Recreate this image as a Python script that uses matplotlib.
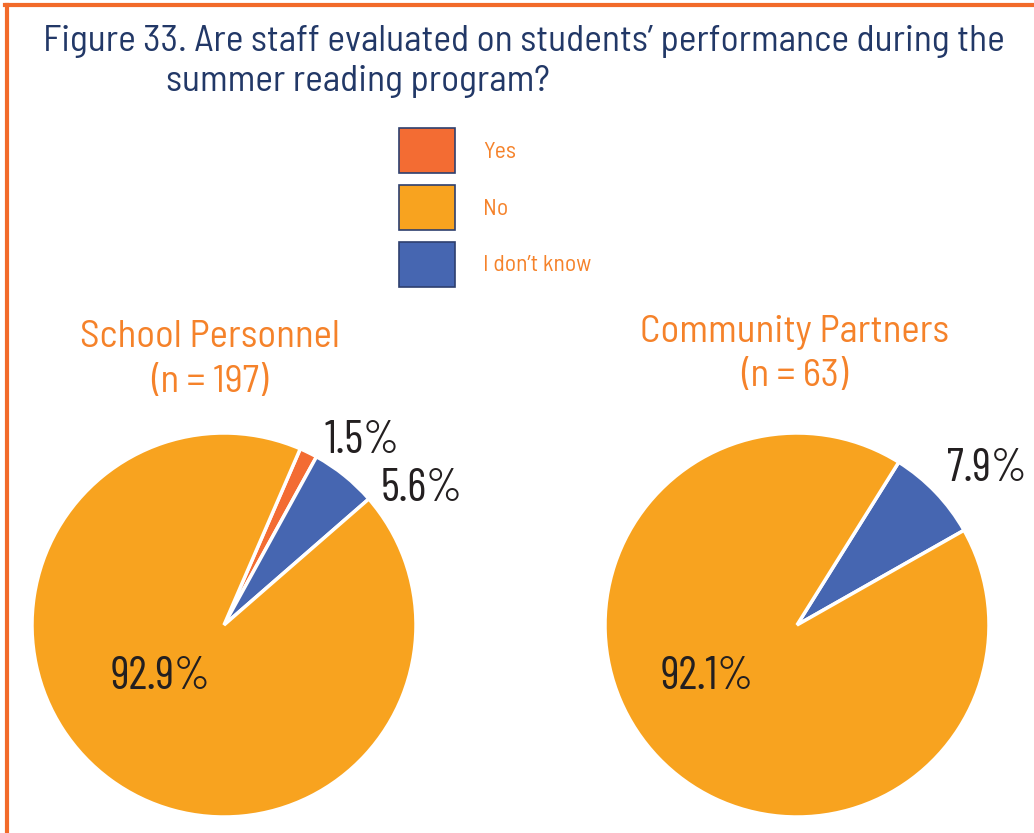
import matplotlib.pyplot as plt
from matplotlib.patches import Patch
from matplotlib.lines import Line2D

# survey answers, percent of respondents
answers = ['Yes', 'No', "I don't know"]
school_pct = [1.5, 92.9, 5.6]
community_pct = [0.0, 92.1, 7.9]
groups = ['School Personnel', 'Community Partners']
group_n = [197, 63]

colors = {'Yes': '#F36C33', 'No': '#F8A31F', "I don't know": '#4666B1'}
navy = '#223867'
orange_txt = '#F5822A'
dark = '#231F20'
narrow = ['Barlow Condensed', 'DejaVu Sans']
semi = ['Barlow Semi Condensed', 'DejaVu Sans']

W, H = 1034, 833
fig = plt.figure(figsize=(W / 100, H / 100), dpi=100)
fig.patch.set_facecolor('white')

# orange frame (top and left edges)
fig.add_artist(Line2D([5 / W, 1], [1 - 5 / H, 1 - 5 / H], color='#F26B2A', lw=3, transform=fig.transFigure))
fig.add_artist(Line2D([7 / W, 7 / W], [0, 1 - 5 / H], color='#F26B2A', lw=3, transform=fig.transFigure))

fig.text(43 / W, 1 - 42 / H, "Figure 33. Are staff evaluated on students\u2019 performance during the",
         fontsize=27, color=navy, family=semi, va='center', ha='left')
fig.text(166 / W, 1 - 82 / H, "summer reading program?",
         fontsize=27, color=navy, family=semi, va='center', ha='left')

handles = [Patch(facecolor=colors[a], edgecolor='#2E3F6E', lw=1.2) for a in answers]
leg = fig.legend(handles, ['Yes', 'No', 'I don\u2019t know'], loc='upper left',
                 bbox_to_anchor=(399 / W, 1 - 128 / H), frameon=False, borderpad=0,
                 borderaxespad=0, handlelength=2.37, handleheight=2.56, labelspacing=0.5,
                 handletextpad=1.2, prop={'family': semi, 'size': 17})
for t in leg.get_texts():
    t.set_color(orange_txt)

# pie centres in pixels, radius 192 px
centres = [(224, 625), (797, 625)]
R = 192
starts = [66.6, 58.0]
# label offsets in pie-radius units, keyed by answer
label_pos = [
    {'Yes': (0.72, 0.96), "I don't know": (1.03, 0.71), 'No': (-0.33, -0.27)},
    {"I don't know": (0.99, 0.81), 'No': (-0.47, -0.27)},
]
title_y = [(338, 382), (332, 377)]
title_x = [210, 795]

for i, pct in enumerate([school_pct, community_pct]):
    cx, cy = centres[i]
    ax = fig.add_axes([(cx - R) / W, 1 - (cy + R) / H, 2 * R / W, 2 * R / H])
    keep = [(a, v) for a, v in zip(answers, pct) if v > 0]
    # clockwise: Yes, I don't know, then No
    order = sorted(keep, key=lambda p: ['Yes', "I don't know", 'No'].index(p[0]))
    ax.pie([v for _, v in order], colors=[colors[a] for a, _ in order],
           startangle=starts[i], counterclock=False, radius=1,
           wedgeprops={'edgecolor': 'white', 'linewidth': 2.5})
    ax.set_xlim(-1, 1)
    ax.set_ylim(-1, 1)
    ax.set_aspect('auto')
    ax.axis('off')
    for a, v in order:
        x, y = label_pos[i][a]
        ax.text(x, y, f'{v}%', fontsize=33, color=dark, family=narrow,
                ha='center', va='center', clip_on=False)

    fig.text(title_x[i] / W, 1 - title_y[i][0] / H, groups[i], fontsize=28,
             color=orange_txt, family=semi, ha='center', va='center')
    fig.text(title_x[i] / W, 1 - title_y[i][1] / H, f'(n = {group_n[i]})', fontsize=28,
             color=orange_txt, family=semi, ha='center', va='center')

fig.savefig('out.png', dpi=100)
